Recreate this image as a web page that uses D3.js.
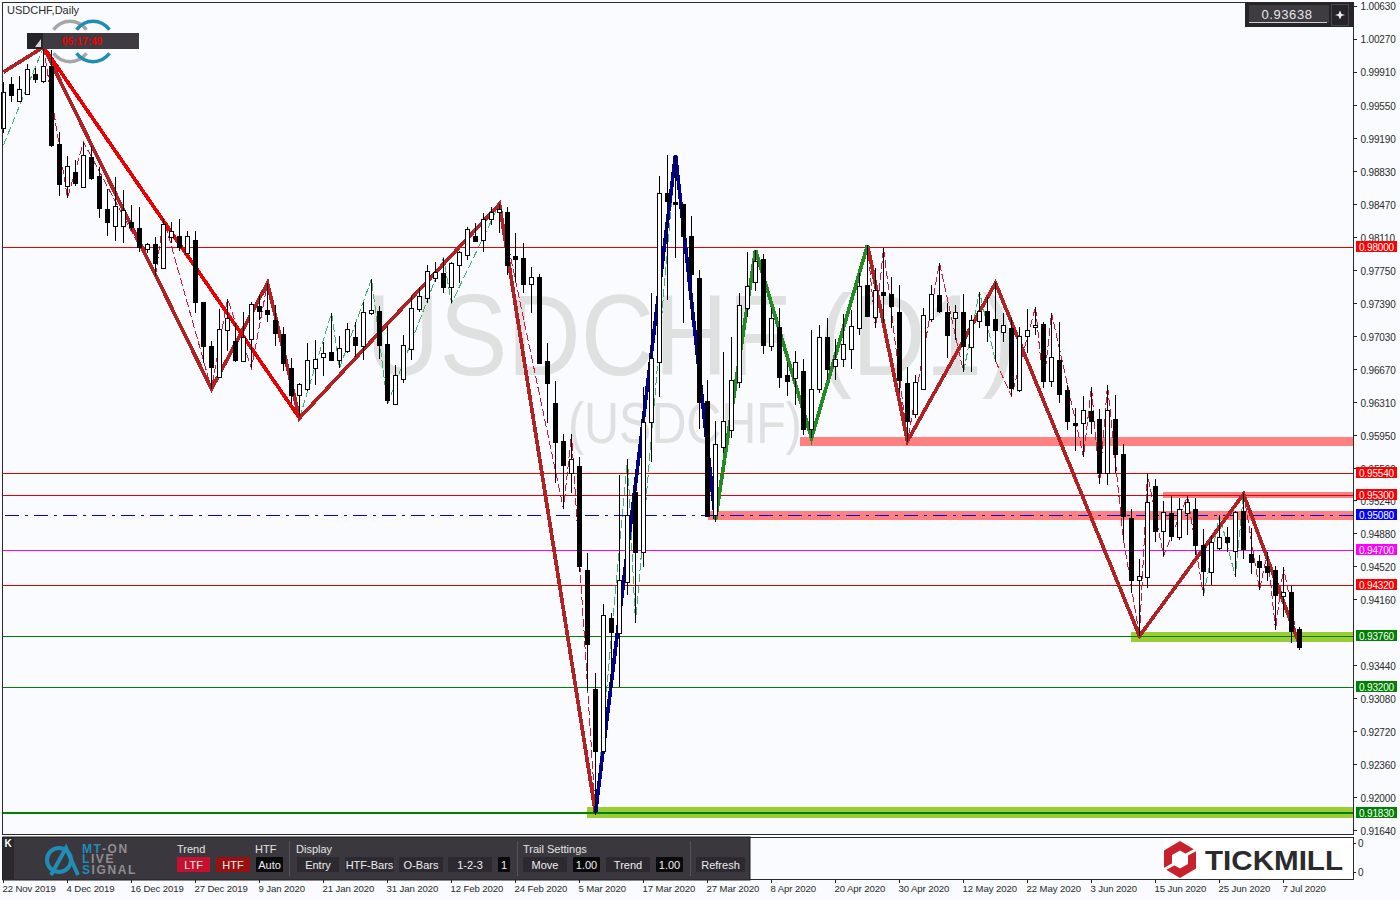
<!DOCTYPE html>
<html><head><meta charset="utf-8">
<script src="https://cdnjs.cloudflare.com/ajax/libs/d3/7.8.5/d3.min.js"></script>
<style>
html,body{margin:0;padding:0;background:#f9fbfe;overflow:hidden}
svg{display:block}
text{font-family:"Liberation Sans",Arial,sans-serif}
</style></head><body>
<svg id="chart" width="1400" height="900"></svg>
<script>
const opens=[.99297,.99776,.99591,.99667,.99885,.99809,.99973,.99122,.98665,.98817,
.98654,.98981,.98774,.98414,.98229,.98229,.98272,.98207,.97978,.98032,
.97771,.98109,.98120,.97934,.98076,.97400,.96921,.96583,.97095,.96975,
.96757,.96997,.97357,.97313,.97204,.97051,.96681,.96387,.96452,.96681,
.96801,.96855,.96768,.96866,.97019,.96921,.97280,.97302,.96942,.96288,
.96561,.96888,.97324,.97444,.97662,.97716,.97564,.97804,.97913,.98120,
.98076,.98305,.98381,.98381,.97902,.97880,.97596,.97673,.96757,.96299,
.95885,.95536,.95613,.94479,.93182,.92506,.93956,.93792,.94348,.95329,
.94675,.96092,.96746,.98588,.98490,.98468,.98120,.97662,.96321,.95078,
.95820,.96005,.96528,.97335,.97618,.97869,.96921,.97128,.96604,.96572,
.96648,.96016,.96452,.97019,.96703,.96779,.96888,.97117,.97586,.97237,
.97509,.97487,.97291,.96517,.96179,.96452,.97215,.97476,.97291,.97226,
.97291,.96910,.97193,.97302,.97215,.97073,.97117,.96441,.97030,.97128,
.97160,.96539,.96768,.96441,.96081,.96081,.96212,.96125,.95536,.96125,
.95743,.95046,.94370,.94403,.95395,.94904,.95100,.94839,.95100,.95144,
.94752,.94457,.94719,.94839,.94686,.95122,.94653,.94577,.94523,.94479,
.94196,.94239,.93836];
const highs=[.99798,.99853,.99864,.99994,.99951,1.00180,1.00147,.99253,.98992,.98948,
.99144,.99101,.98872,.98632,.98763,.98621,.98457,.98436,.98043,.98109,
.98316,.98272,.98305,.98174,.98174,.97400,.96975,.97324,.97433,.97171,
.97291,.97400,.97476,.97607,.97368,.97128,.96790,.96517,.96953,.96986,
.96964,.97280,.97030,.97171,.97182,.97400,.97651,.97357,.97139,.96714,
.97041,.97466,.97564,.97804,.97836,.97880,.97836,.97956,.98218,.98261,
.98370,.98436,.98468,.98436,.98152,.98043,.97782,.97705,.96953,.96539,
.95961,.95961,.95711,.94664,.93356,.94108,.94010,.95515,.95689,.95547,
.96474,.97498,.98774,.99003,.99003,.98468,.98337,.97749,.96550,.96103,
.96855,.97019,.97498,.97945,.97967,.97923,.97335,.97335,.96746,.96866,
.96779,.97095,.97149,.97226,.96997,.97269,.97313,.97716,.98021,.97771,
.97989,.97673,.97586,.96692,.96604,.97335,.97586,.97825,.97389,.97368,
.97487,.97259,.97509,.97455,.97618,.97280,.97226,.97128,.97324,.97346,
.97182,.97280,.97182,.96496,.96245,.96376,.96474,.96234,.96496,.96387,
.95852,.95144,.94599,.95525,.95471,.95231,.95286,.95264,.95286,.95264,
.94926,.94861,.95078,.94948,.95122,.95318,.94937,.94643,.94675,.94523,
.94512,.94304,.93858];
const lows=[.99242,.99580,.99591,.99657,.99787,.99787,.99090,.98556,.98534,.98665,
.98643,.98730,.98316,.98120,.98065,.98043,.98185,.97945,.97934,.97684,
.97771,.98043,.97956,.97934,.97280,.96735,.96452,.96572,.96866,.96746,
.96746,.96681,.97204,.97182,.96921,.96648,.96299,.96147,.96430,.96496,
.96594,.96757,.96681,.96844,.96801,.96768,.97259,.96779,.96288,.96277,
.96517,.96768,.97291,.97389,.97618,.97498,.97389,.97607,.97858,.98054,
.97945,.98240,.98152,.97694,.97618,.97498,.97280,.96724,.96081,.95427,
.95144,.95318,.94457,.93160,.91809,.92506,.93171,.93204,.94207,.93901,
.94512,.95656,.96365,.97422,.97880,.97171,.97204,.96016,.95057,.95002,
.95754,.95918,.96463,.97237,.97520,.96833,.96866,.96463,.96376,.96278,
.95951,.95918,.96408,.96550,.96550,.96692,.96670,.97041,.97237,.97117,
.97171,.97117,.96408,.95874,.96136,.96452,.97182,.97280,.96790,.96986,
.96637,.96637,.97117,.96964,.96746,.96964,.96376,.96419,.96844,.97041,
.96463,.96474,.96299,.96005,.95776,.95711,.95961,.95416,.95405,.95536,
.94806,.94228,.93760,.94283,.94784,.94632,.94795,.94806,.94860,.94643,
.94196,.94315,.94697,.94675,.94403,.94599,.94435,.94261,.94359,.93825,
.93967,.93683,.93607];
const closes=[.99689,.99657,.99722,.99940,.99831,.99973,.99112,.98686,.98883,.98697,
.99003,.98752,.98425,.98272,.98447,.98403,.98218,.98000,.98032,.97825,
.98250,.98174,.98000,.98120,.97400,.96921,.96692,.97106,.97226,.96768,
.97019,.97378,.97302,.97269,.97062,.96735,.96387,.96506,.96768,.96779,
.96844,.96768,.96899,.97106,.96932,.97291,.97313,.96932,.96332,.96604,
.96932,.97335,.97466,.97738,.97727,.97564,.97825,.97945,.98196,.98065,
.98305,.98381,.98414,.97804,.97869,.97596,.97673,.96735,.96517,.95874,
.95624,.95689,.94523,.93672,.92506,.93989,.93803,.94370,.95078,.94675,
.96092,.96790,.98588,.98501,.98468,.98120,.97705,.96310,.95068,.95852,
.96103,.96550,.97368,.97575,.97847,.96932,.97226,.96583,.96539,.96746,
.96016,.96452,.97019,.96670,.96779,.96942,.97139,.97575,.97248,.97531,
.97476,.97357,.96550,.96103,.96528,.97259,.97487,.97302,.97041,.97291,
.96921,.97204,.97302,.97149,.97095,.97149,.96463,.97030,.97095,.97149,
.96539,.96801,.96398,.96103,.96059,.96223,.96103,.95536,.96223,.95743,
.95068,.94370,.94414,.95220,.94904,.95111,.94850,.95144,.95220,.94752,
.94468,.94784,.94839,.94784,.95111,.94708,.94566,.94512,.94457,.94207,
.94239,.93814,.93638];

const dateLabels=["22 Nov 2019","4 Dec 2019","16 Dec 2019","27 Dec 2019","9 Jan 2020","21 Jan 2020","31 Jan 2020","12 Feb 2020","24 Feb 2020","5 Mar 2020","17 Mar 2020","27 Mar 2020","8 Apr 2020","20 Apr 2020","30 Apr 2020","12 May 2020","22 May 2020","3 Jun 2020","15 Jun 2020","25 Jun 2020","7 Jul 2020"];
const priceTicks=[1.0063,1.0027,.9991,.9955,.9919,.9883,.9847,.9811,.9775,.9739,.9703,.9667,.9631,.9595,.9559,.9524,.9488,.9452,.9416,.9344,.9308,.9272,.9236,.92,.9164];

// [bar index, price]
const brownLegs=[
 [[0,.99907],[5,1.0018],[26,.96452],[33,.97607],[37,.96136],[62,.98468],[74,.9183]],
 [[108,.98021],[113,.95885],[124,.97607],[142,.9376],[155,.95307],[162,.93662]]];
const redLeg=[[5,1.0018],[37,.96136]];
const blueLeg=[[74,.9183],[84,.99003],[89,.95024]];
const greenLeg=[[89,.95024],[94,.97967],[101,.95918],[108,.98021]];
const thinDown=[
 [[5,1.0018],[8,.98534],[10,.99144],[19,.97684],[20,.98316],[26,.96452],[28,.97433],[31,.96681],[33,.97607],[37,.96136]],
 [[62,.98468],[70,.95144],[71,.95961],[74,.9183]],
 [[84,.99003],[89,.95024]],
 [[94,.97967],[101,.95918]],
 [[108,.98021],[109,.97117],[110,.97989],[113,.95885],[117,.97825],[120,.96637]],
 [[124,.96757],[126,.96376],[129,.97346],[130,.96463],[131,.9728],[135,.95711],[136,.96474],[137,.95416],[138,.96496],[140,.94806],[142,.9376],[143,.95525],[145,.94632],[148,.95286],[150,.94196]],
 [[155,.95318],[157,.94261],[158,.94675],[159,.93825],[160,.94512],[162,.93607]]];
const thinUp=[
 [[0,.99112],[5,1.0018]],
 [[37,.96136],[41,.9728],[42,.96681],[46,.97651],[48,.96288],[55,.9788],[56,.97389],[62,.98468]],
 [[74,.9183],[78,.95689],[79,.93901],[84,.99003]],
 [[89,.95024],[94,.97967]],
 [[101,.95918],[108,.98021]],
 [[120,.96637],[122,.97509],[124,.96757]],
 [[150,.94196],[152,.95078],[154,.94403],[155,.95318]]];

// price levels and their colours
const levelPrices=[.98,.9554,.953,.9508,.947,.9432,.9376,.932,.9183];
const levelColors=["#e60000","#e60000","#e60000","#0000e6","#ff00ff","#e60000","#008000","#008000","#008000"];
// zones: [first bar, top price, bottom price]
const pinkZones=[[99.6,.95929,.95830],[88.1,.95122,.95024],[145,.95329,.95264]];
const greenZones=[[141,.93803,.93694],[73,.91896,.91776]];

const panelButtons=[
 ["LTF",177,33,"#c8102e"],["HTF",216,34,"#9a0f10"],["Auto",256,27,"#0a0a0a"],
 ["Entry",297,42,"#2c2a30"],["HTF-Bars",345,49,"#2c2a30"],["O-Bars",399,44,"#2c2a30"],
 ["1-2-3",448,44,"#2c2a30"],["1",498,12,"#0a0a0a"],["Move",523,44,"#2c2a30"],
 ["1.00",573,27,"#0a0a0a"],["Trend",606,44,"#2c2a30"],["1.00",656,27,"#0a0a0a"],["Refresh",696,49,"#2c2a30"]];
const panelHeads=[["Trend",177],["HTF",255],["Display",296],["Trail Settings",523]];

const svg=d3.select("#chart");
const x=d3.scaleLinear().domain([0,162]).range([3,1299]);
const y=d3.scaleLinear().domain([.98,.9183]).range([247,813]);
const px=v=>Math.round(v)+.5;
const AX=1353;

// watermark
const wm=svg.append("g").attr("fill","#dfe1e1").style("font-family",'"Open Sans",sans-serif');
wm.append("text").attr("x",366).attr("y",375).attr("font-size",115).attr("textLength",650).attr("lengthAdjust","spacingAndGlyphs").text("USDCHF (D1)");
wm.append("text").attr("x",568).attr("y",443).attr("font-size",57).attr("textLength",234).attr("lengthAdjust","spacingAndGlyphs").text("(USDCHF)");

// logo behind timer
const arc=d3.arc();
const topLogo=svg.append("g");
[[70,"#a6a6a6"],[93,"#1f8db5"]].forEach(([cx,c])=>{
  [[-.95,.95],[Math.PI-.95,Math.PI+.95]].forEach(([a,b])=>{
    topLogo.append("path").attr("transform",`translate(${cx},41.5)`).attr("fill",c)
      .attr("d",arc({innerRadius:18.5,outerRadius:22,startAngle:a,endAngle:b}));
  });
});

// zones
const zones=svg.append("g").attr("shape-rendering","crispEdges");
zones.selectAll(".pz").data(pinkZones).join("rect").attr("fill","#ff8080")
  .attr("x",d=>x(d[0])).attr("width",d=>AX-x(d[0])).attr("y",d=>y(d[1])).attr("height",d=>y(d[2])-y(d[1]));
zones.selectAll(".gz").data(greenZones).join("rect").attr("fill","#9acd32")
  .attr("x",d=>x(d[0])).attr("width",d=>AX-x(d[0])).attr("y",d=>y(d[1])).attr("height",d=>y(d[2])-y(d[1]));

// thin dashed zigzags
const line=d3.line().x(d=>x(d[0])+.5).y(d=>y(d[1]));
const overlay=svg.append("g").attr("fill","none").attr("shape-rendering","crispEdges");
overlay.selectAll(".td").data(thinDown).join("path").attr("d",line).attr("stroke","#dc143c").attr("stroke-dasharray","8,3");
overlay.selectAll(".tu").data(thinUp).join("path").attr("d",line).attr("stroke","#3cb371").attr("stroke-dasharray","8,3");

// horizontal levels
const levels=svg.append("g").attr("shape-rendering","crispEdges");
levelPrices.forEach((p,i)=>{
  const ly=p===.9183?Math.round(y(p)):px(y(p));
  const l=levels.append("line").attr("x1",p===.9508?5:3).attr("x2",AX).attr("y1",ly).attr("y2",ly).attr("stroke",levelColors[i]);
  if(p===.9508) l.attr("stroke-dasharray","14,6,3,6");
  if(p===.9183) l.attr("stroke-width",2);
});

// major zigzags
const majors=svg.append("g").attr("fill","none").attr("stroke-width",3.7).attr("stroke-linejoin","miter").attr("shape-rendering","crispEdges");
majors.selectAll(".br").data(brownLegs).join("path").attr("d",line).attr("stroke","#b22222");
majors.append("path").attr("d",line(redLeg)).attr("stroke","#ee0000");
majors.append("path").attr("d",line(blueLeg)).attr("stroke","#00008b");
majors.append("path").attr("d",line(greenLeg)).attr("stroke","#228b22");

// candles
const bars=opens.map((o,i)=>({i,o,h:highs[i],l:lows[i],c:closes[i]}));
const cg=svg.append("g").attr("shape-rendering","crispEdges");
const cs=cg.selectAll("g").data(bars).join("g");
cs.append("line").attr("x1",d=>px(x(d.i))).attr("x2",d=>px(x(d.i))).attr("y1",d=>Math.round(y(d.h))).attr("y2",d=>Math.round(y(d.l))).attr("stroke","#000");
cs.append("rect").attr("x",d=>x(d.i)-1.5).attr("width",4)
  .attr("y",d=>Math.round(y(Math.max(d.o,d.c)))+.5)
  .attr("height",d=>Math.max(1,Math.round(y(Math.min(d.o,d.c)))-Math.round(y(Math.max(d.o,d.c)))))
  .attr("fill",d=>d.c>=d.o?"#fff":"#000").attr("stroke","#000");

// frames
const frames=svg.append("g").attr("fill","none").attr("stroke","#2a2a2a").attr("shape-rendering","crispEdges");
frames.append("rect").attr("x",2.5).attr("y",2.5).attr("width",1351).attr("height",832);

// price axis
const yAxis=d3.axisRight(y).tickValues(priceTicks).tickFormat(d3.format(".5f")).tickSize(3).tickPadding(3);
const yg=svg.append("g").attr("transform",`translate(${AX+.5},0)`).call(yAxis);
yg.select(".domain").remove();
yg.selectAll("line").attr("stroke","#222").attr("shape-rendering","crispEdges");
yg.selectAll("text").attr("font-size",10).attr("font-family",'"Liberation Sans",Arial,sans-serif').attr("fill","#2a2a2a").attr("letter-spacing","-.15").attr("x",7).attr("y",1);

// level tags
const tags=svg.append("g");
levelPrices.forEach((p,i)=>{
  tags.append("rect").attr("x",1356).attr("width",41).attr("y",Math.round(y(p))-6).attr("height",11).attr("fill",levelColors[i]==="#e60000"?"#ff0000":levelColors[i]==="#0000e6"?"#0000ff":levelColors[i]).attr("shape-rendering","crispEdges");
  tags.append("text").attr("x",1376.5).attr("y",Math.round(y(p))+3.5).attr("text-anchor","middle").attr("font-size",10).attr("fill","#fff").attr("letter-spacing","-.15").text(p.toFixed(5));
});

// bottom sub-window
const sub=svg.append("g");
sub.append("rect").attr("x",2.5).attr("y",837.5).attr("width",1351).attr("height",42).attr("fill","none").attr("stroke","#2a2a2a").attr("shape-rendering","crispEdges");
const subTicks=[843,872];
subTicks.forEach(v=>{
  sub.append("line").attr("x1",AX).attr("x2",AX+3).attr("y1",v+.5).attr("y2",v+.5).attr("stroke","#222").attr("shape-rendering","crispEdges");
  sub.append("text").attr("x",1358).attr("y",v+4).attr("font-size",10).attr("fill","#2a2a2a").text("0");
});

// date axis
const xAxis=d3.axisBottom(x).tickValues(d3.range(0,161,8)).tickFormat((d,i)=>dateLabels[i]).tickSize(3).tickPadding(2);
const xg=svg.append("g").attr("transform","translate(-.5,880)").call(xAxis);
xg.select(".domain").remove();
xg.selectAll("line").attr("stroke","#222").attr("shape-rendering","crispEdges");
xg.selectAll("text").attr("font-size",9.6).attr("font-family",'"Liberation Sans",Arial,sans-serif').attr("fill","#2a2a2a").attr("text-anchor","start").attr("x",-.5).attr("letter-spacing","-.1");

// timer label
const timer=svg.append("g");
timer.append("rect").attr("x",27).attr("y",33).attr("width",112).attr("height",16).attr("fill","#3e3c42");
timer.append("rect").attr("x",27).attr("y",33).attr("width",16).attr("height",16).attr("fill","#252428");
timer.append("path").attr("d","M41 39V47H35Z").attr("fill","#d8d8d8");
timer.append("text").attr("x",82).attr("y",44.5).attr("text-anchor","middle").attr("font-size",10).attr("font-weight","bold").attr("fill","#f00000").text("05:17:49");

// price box
const pb=svg.append("g");
pb.append("rect").attr("x",1245).attr("y",3).attr("width",109).attr("height",24).attr("fill","#262428");
pb.append("rect").attr("x",1249).attr("y",5).attr("width",80).attr("height",18).attr("fill","#3e3c42");
pb.append("line").attr("x1",1249).attr("x2",1327).attr("y1",22.5).attr("y2",22.5).attr("stroke","#cfcfcf");
pb.append("text").attr("x",1287).attr("y",19).attr("text-anchor","middle").attr("font-size",13).attr("fill","#e8e8e8").attr("letter-spacing",".6").text("0.93638");
pb.append("path").attr("d","M1340 10.5L1341.5 14L1345 15L1341.5 16L1340 19.5L1338.5 16L1335 15L1338.5 14Z").attr("fill","#eee");
pb.append("rect").attr("x",1331.5).attr("y",4.5).attr("width",17).attr("height",21).attr("fill","none").attr("stroke","#4a484e");

// title
svg.append("text").attr("x",7).attr("y",14).attr("font-size",11).attr("fill","#2a2a2a").text("USDCHF,Daily");

// control panel
const pan=svg.append("g");
pan.append("rect").attr("x",3).attr("y",837).attr("width",747).attr("height",43).attr("fill","#3a383e").attr("stroke","#1c1c1e");
pan.append("rect").attr("x",4).attr("y",838).attr("width",10).attr("height",41).attr("fill","#2a282d");
pan.append("text").attr("x",4.5).attr("y",847).attr("font-size",10).attr("font-weight","bold").attr("fill","#fff").text("K");
[289,517,690].forEach(v=>pan.append("line").attr("x1",v+.5).attr("x2",v+.5).attr("y1",841).attr("y2",876).attr("stroke","#55535a").attr("shape-rendering","crispEdges"));
panelHeads.forEach(([t,v])=>pan.append("text").attr("x",v).attr("y",853).attr("font-size",11).attr("fill","#e4e4e4").text(t));
panelButtons.forEach(([t,v,w,c])=>{
  pan.append("rect").attr("x",v).attr("y",857).attr("width",w).attr("height",15).attr("rx",1).attr("fill",c);
  pan.append("text").attr("x",v+w/2).attr("y",868.5).attr("text-anchor","middle").attr("font-size",11).attr("fill","#eee").text(t);
});
// panel logo
const lg=pan.append("g").attr("fill","none").attr("stroke","#1f8db5").attr("stroke-width",4);
lg.append("circle").attr("cx",59).attr("cy",860).attr("r",12);
lg.append("path").attr("d","M51 875L66 848L78 875");
[["MT","-ON",82,853],["L","IVE",82,863],["S","IGNAL",82,874]].forEach(([a,b,lx,ly])=>{
  const t=pan.append("text").attr("x",lx).attr("y",ly).attr("font-size",12).attr("font-weight","bold").attr("letter-spacing","1.6");
  t.append("tspan").attr("fill","#1f8db5").text(a);
  t.append("tspan").attr("fill","#8f8d92").text(b);
});

// Tickmill logo
const tm=svg.append("g");
tm.append("rect").attr("x",1164).attr("y",838).attr("width",189).attr("height",41).attr("fill","#fff");
tm.append("path").attr("fill","#c8202c").attr("fill-rule","evenodd")
  .attr("d","M1180 841L1196 850.5V868.5L1180 878L1164 868.5V850.5ZM1180 850.5L1172 855V864L1180 868.5L1188 864V855Z");
tm.append("path").attr("d","M1163 870L1174 864M1186 855L1197 849").attr("stroke","#fff").attr("stroke-width",3);
tm.append("text").attr("x",1205).attr("y",869.5).attr("font-size",28).attr("font-weight","bold").attr("fill","#2b2b2b").attr("textLength",138).attr("lengthAdjust","spacingAndGlyphs").text("TICKMILL");
</script>
</body></html>
